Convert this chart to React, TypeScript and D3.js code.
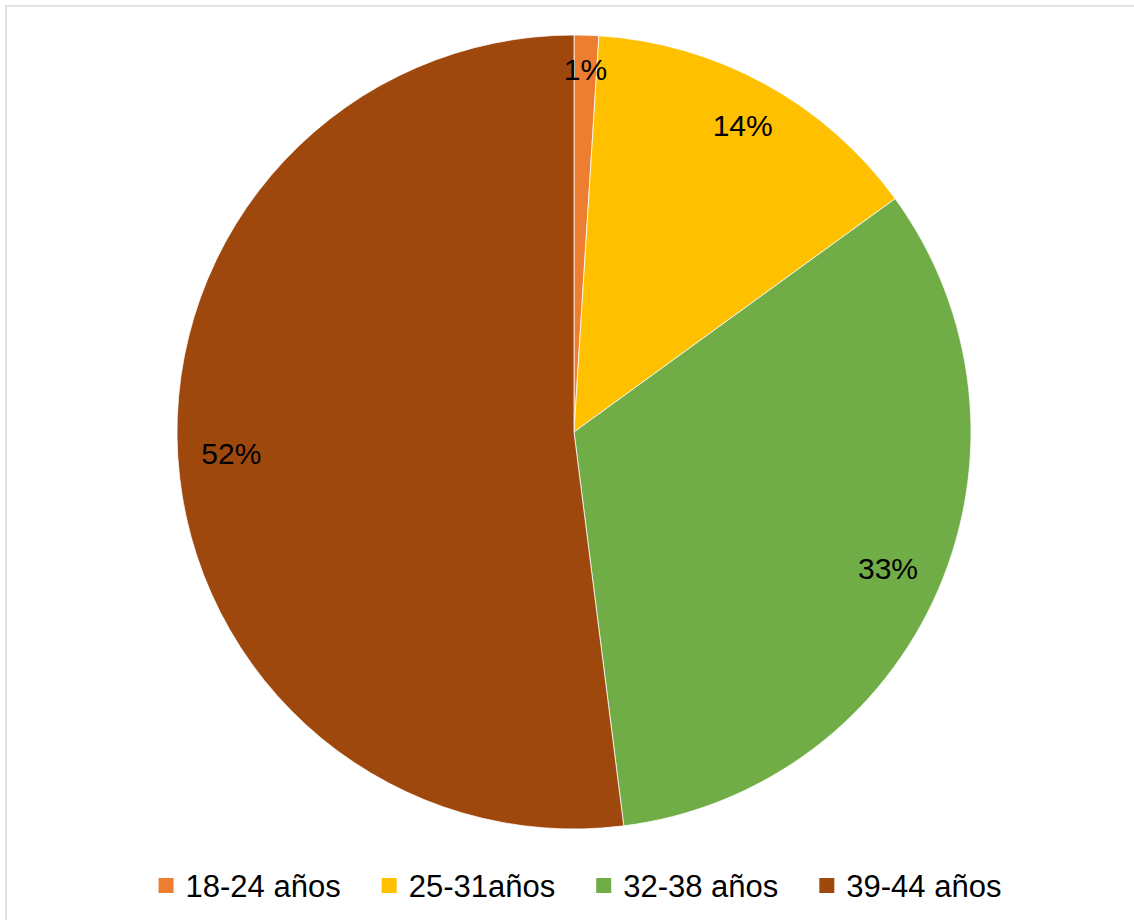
import React, { useEffect, useRef } from "react";
import * as d3 from "d3";

const categories = ["18-24 años", "25-31años", "32-38 años", "39-44 años"];
const values = [1, 14, 33, 52];
const labels = ["1%", "14%", "33%", "52%"];
const colors = ["#ED7D31", "#FFC000", "#70AD47", "#9E480E"];

const W = 1134;
const H = 920;
const FONT = "'Liberation Sans', Arial, sans-serif";

export default function App() {
  const ref = useRef<SVGSVGElement | null>(null);

  useEffect(() => {
    const svg = d3.select(ref.current);
    svg.selectAll("*").remove();

    // chart frame
    svg
      .append("rect")
      .attr("x", 6)
      .attr("y", 6)
      .attr("width", 2000)
      .attr("height", 2000)
      .attr("fill", "#fff")
      .attr("stroke", "#d9d9d9")
      .attr("stroke-width", 1.5);

    const cx = 574;
    const cy = 432;
    const R = 397;

    const pie = d3
      .pie<number>()
      .value((d) => d)
      .sort(null);
    const arcs = pie(values);
    const arc = d3.arc<d3.PieArcDatum<number>>().innerRadius(0).outerRadius(R);

    const g = svg.append("g").attr("transform", `translate(${cx},${cy})`);
    g.selectAll("path")
      .data(arcs)
      .join("path")
      .attr("d", arc as any)
      .attr("fill", (_d, i) => colors[i])
      .attr("stroke", "#fff")
      .attr("stroke-width", 0.75);

    // labels (inside end)
    const fs = 30;
    const capH = fs * 0.716;
    const pad = 23;
    labels.forEach((t, i) => {
      const a = arcs[i];
      const mid = (a.startAngle + a.endAngle) / 2;
      const txt = g
        .append("text")
        .attr("font-family", FONT)
        .attr("font-size", fs)
        .attr("fill", "#000")
        .attr("text-anchor", "middle")
        .text(t);
      const w = (txt.node() as SVGTextElement).getComputedTextLength();
      const e = Math.abs(Math.sin(mid)) * (w / 2) + Math.abs(Math.cos(mid)) * (capH / 2);
      const r = R - pad - e;
      const x = Math.sin(mid) * r;
      const y = -Math.cos(mid) * r;
      txt.attr("x", x).attr("y", y + capH / 2);
    });

    // legend
    const lfs = 31;
    const sq = 15;
    const gapText = 27;
    const gapItem = 41;
    const legendCenter = 580;
    const baseline = 896.5;
    const lg = svg.append("g");
    const items = categories.map((c, i) => {
      const t = lg
        .append("text")
        .attr("font-family", FONT)
        .attr("font-size", lfs)
        .attr("fill", "#000")
        .attr("y", baseline)
        .text(c);
      const w = (t.node() as SVGTextElement).getComputedTextLength();
      const r = lg
        .append("rect")
        .attr("width", sq)
        .attr("height", sq)
        .attr("y", baseline - 18.5)
        .attr("fill", colors[i]);
      return { t, r, w };
    });
    const total =
      items.reduce((s, it) => s + gapText + it.w, 0) + gapItem * (items.length - 1);
    let x = legendCenter - total / 2;
    items.forEach((it) => {
      it.r.attr("x", x);
      it.t.attr("x", x + gapText);
      x += gapText + it.w + gapItem;
    });
  }, []);

  return (
    <svg
      ref={ref}
      width={W}
      height={H}
      style={{ position: "absolute", left: 0, top: 0, display: "block", background: "#fff" }}
    />
  );
}
